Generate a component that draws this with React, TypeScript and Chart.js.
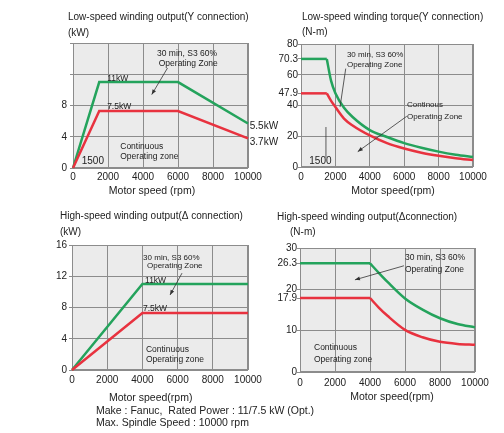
import React, { useEffect, useRef } from 'react';
import { Chart, registerables } from 'chart.js';

Chart.register(...registerables);

const W = 504;
const H = 433;
const FONT = '"Liberation Sans", Arial, Helvetica, sans-serif';
const GREEN = '#24a35c';
const RED = '#e8323f';
const PLOT_BG = '#ebebeb';
const GRID = '#8c8c8c';
const TEXT = '#222222';

// shared x axis ticks (rpm)
const RPM_TICKS = [0, 2000, 4000, 6000, 8000, 10000];

// Panel 1: low-speed winding output (kW)
const LOW_OUT_RPM = [0, 1500, 6000, 10000];
const LOW_OUT_S3 = [0, 11, 11, 5.7];
const LOW_OUT_CONT = [0, 7.3, 7.3, 3.8];
const LOW_OUT_YTICKS = [0, 4, 8, 12, 16];
const LOW_OUT_YLABELS = [0, 4, 8];

// Panel 2: low-speed winding torque (N-m)
const LOW_TQ_RPM = [0, 1500, 1750, 2000, 2500, 3000, 4000, 5000, 6000, 7000, 8000, 9000, 10000];
const LOW_TQ_S3 = [70.3, 70.3, 56, 48, 38.5, 32.5, 24, 19.5, 15.5, 12.5, 10, 8, 6.5];
const LOW_TQ_CONT = [47.9, 47.9, 43, 39, 31.5, 27, 20.5, 15.5, 12, 9.3, 7.3, 5.7, 4.5];
const LOW_TQ_YTICKS = [0, 20, 40, 47.9, 60, 70.3, 80];
const LOW_TQ_YGRID = [0, 20, 40, 60, 80];

// Panel 3: high-speed winding output (kW)
const HIGH_OUT_RPM = [0, 4000, 10000];
const HIGH_OUT_S3 = [0, 11, 11];
const HIGH_OUT_CONT = [0, 7.3, 7.3];
const HIGH_OUT_YTICKS = [0, 4, 8, 12, 16];

// Panel 4: high-speed winding torque (N-m)
const HIGH_TQ_RPM = [0, 4000, 4500, 5000, 6000, 7000, 8000, 9000, 10000];
const HIGH_TQ_S3 = [26.3, 26.3, 24, 21.8, 17.8, 15.1, 13, 11.6, 10.8];
const HIGH_TQ_CONT = [17.9, 17.9, 15.6, 13.6, 10.2, 8.4, 7.3, 6.8, 6.6];
const HIGH_TQ_YTICKS = [0, 10, 17.9, 20, 26.3, 30];
const HIGH_TQ_YGRID = [0, 10, 20, 30];

type Note = { t: string; x: number; y: number; size?: number };
type Arrow = { x1: number; y1: number; x2: number; y2: number; head?: boolean };
type Label = { t: string; x: number; y: number; size?: number; align?: CanvasTextAlign };

interface Panel {
  area: { left: number; top: number; right: number; bottom: number };
  rpm: number[];
  s3: number[];
  cont: number[];
  corner: number | null;
  yMax: number;
  yTicks: number[];
  yLabels: number[];
  yGrid: number[];
  yPad: number;
  xPad: number;
  notes: Note[];
  arrows: Arrow[];
  labels: Label[];
}

const PANELS: Panel[] = [
  {
    area: { left: 73, top: 43, right: 248, bottom: 168 },
    rpm: LOW_OUT_RPM,
    s3: LOW_OUT_S3,
    cont: LOW_OUT_CONT,
    corner: null,
    yMax: 16,
    yTicks: LOW_OUT_YTICKS,
    yLabels: LOW_OUT_YLABELS,
    yGrid: LOW_OUT_YTICKS,
    yPad: 3,
    xPad: 3,
    notes: [
      { t: '30 min, S3 60%', x: 4800, y: 14.7 },
      { t: 'Operating Zone', x: 4900, y: 13.3 },
      { t: '11kW', x: 1950, y: 11.5 },
      { t: '7.5kW', x: 1950, y: 7.9 },
      { t: 'Continuous', x: 2700, y: 2.7 },
      { t: 'Operating zone', x: 2700, y: 1.5 },
      { t: '1500', x: 500, y: 0.9, size: 10 },
      { t: '5.5kW', x: 10100, y: 5.4, size: 10 },
      { t: '3.7kW', x: 10100, y: 3.3, size: 10 },
    ],
    arrows: [{ x1: 5400, y1: 12.8, x2: 4500, y2: 9.4, head: true }],
    labels: [
      { t: 'Low-speed winding output(Y connection)', x: 68, y: 17 },
      { t: '(kW)', x: 68, y: 33 },
      { t: 'Motor speed (rpm)', x: 152, y: 191, size: 10.5, align: 'center' },
    ],
  },
  {
    area: { left: 301, top: 44, right: 473, bottom: 167 },
    rpm: LOW_TQ_RPM,
    s3: LOW_TQ_S3,
    cont: LOW_TQ_CONT,
    corner: 1,
    yMax: 80,
    yTicks: LOW_TQ_YTICKS,
    yLabels: LOW_TQ_YTICKS,
    yGrid: LOW_TQ_YGRID,
    yPad: 0,
    xPad: 4,
    notes: [
      { t: '30 min, S3 60%', x: 2670, y: 72.8, size: 8 },
      { t: 'Operating Zone', x: 2670, y: 66.3, size: 8 },
      { t: 'Continous', x: 6160, y: 40.3, size: 8 },
      { t: 'Operating Zone', x: 6160, y: 32.5, size: 8 },
      { t: '1500', x: 480, y: 3.9, size: 10 },
    ],
    arrows: [
      { x1: 2600, y1: 64, x2: 2270, y2: 39, head: false },
      { x1: 6150, y1: 33, x2: 3300, y2: 10, head: true },
      { x1: 1450, y1: 6, x2: 1450, y2: 26, head: false },
    ],
    labels: [
      { t: 'Low-speed winding torque(Y connection)', x: 302, y: 17 },
      { t: '(N-m)', x: 302, y: 32 },
      { t: 'Motor speed(rpm)', x: 393, y: 191, size: 10.5, align: 'center' },
    ],
  },
  {
    area: { left: 72, top: 245, right: 248, bottom: 370 },
    rpm: HIGH_OUT_RPM,
    s3: HIGH_OUT_S3,
    cont: HIGH_OUT_CONT,
    corner: null,
    yMax: 16,
    yTicks: HIGH_OUT_YTICKS,
    yLabels: HIGH_OUT_YTICKS,
    yGrid: HIGH_OUT_YTICKS,
    yPad: 2,
    xPad: 4,
    notes: [
      { t: '30 min, S3 60%', x: 4040, y: 14.3, size: 8 },
      { t: 'Operating Zone', x: 4260, y: 13.3, size: 8 },
      { t: '11kW', x: 4150, y: 11.4 },
      { t: '7.5kW', x: 4030, y: 7.8 },
      { t: 'Continuous', x: 4200, y: 2.6 },
      { t: 'Operating zone', x: 4200, y: 1.3 },
    ],
    arrows: [{ x1: 6250, y1: 12.4, x2: 5570, y2: 9.6, head: true }],
    labels: [
      { t: 'High-speed winding output(Δ connection)', x: 60, y: 216 },
      { t: '(kW)', x: 60, y: 232 },
      { t: 'Motor speed(rpm)', x: 109, y: 398, size: 10.5 },
      { t: 'Make : Fanuc,  Rated Power : 11/7.5 kW (Opt.)', x: 96, y: 411, size: 10.5 },
      { t: 'Max. Spindle Speed : 10000 rpm', x: 96, y: 423, size: 10.5 },
    ],
  },
  {
    area: { left: 300, top: 248, right: 475, bottom: 372 },
    rpm: HIGH_TQ_RPM,
    s3: HIGH_TQ_S3,
    cont: HIGH_TQ_CONT,
    corner: 1,
    yMax: 30,
    yTicks: HIGH_TQ_YTICKS,
    yLabels: HIGH_TQ_YTICKS,
    yGrid: HIGH_TQ_YGRID,
    yPad: 0,
    xPad: 5,
    notes: [
      { t: '30 min, S3 60%', x: 6000, y: 27.6 },
      { t: 'Operating Zone', x: 6000, y: 24.7 },
      { t: 'Continuous', x: 800, y: 5.8 },
      { t: 'Operating zone', x: 800, y: 3.1 },
    ],
    arrows: [{ x1: 5940, y1: 25.7, x2: 3140, y2: 22.3, head: true }],
    labels: [
      { t: 'High-speed winding output(Δconnection)', x: 277, y: 217 },
      { t: '(N-m)', x: 290, y: 232 },
      { t: 'Motor speed(rpm)', x: 392, y: 397, size: 10.5, align: 'center' },
    ],
  },
];

const AXIS_W = 40;
const AXIS_H = 22;

function pts(xs: number[], ys: number[], from: number, to: number) {
  const out: { x: number; y: number }[] = [];
  for (let i = from; i <= to; i++) out.push({ x: xs[i], y: ys[i] });
  return out;
}

function lineDs(data: { x: number; y: number }[], color: string, smooth: boolean) {
  return {
    data,
    borderColor: color,
    backgroundColor: color,
    borderWidth: 2.5,
    pointRadius: 0,
    fill: false,
    tension: smooth ? 0.4 : 0,
    cubicInterpolationMode: smooth ? ('monotone' as const) : ('default' as const),
    clip: 4,
  };
}

function buildDatasets(p: Panel) {
  const n = p.rpm.length - 1;
  const series: [number[], string][] = [
    [p.cont, RED],
    [p.s3, GREEN],
  ];
  const ds: any[] = [];
  for (const [ys, color] of series) {
    if (p.corner === null) {
      ds.push(lineDs(pts(p.rpm, ys, 0, n), color, false));
    } else {
      ds.push(lineDs(pts(p.rpm, ys, 0, p.corner), color, false));
      ds.push(lineDs(pts(p.rpm, ys, p.corner, n), color, true));
    }
  }
  return ds;
}

function makePlugin(p: Panel) {
  return {
    id: 'panelDecor',
    beforeDraw(chart: any) {
      const { ctx, chartArea: a } = chart;
      ctx.save();
      ctx.fillStyle = PLOT_BG;
      ctx.fillRect(a.left, a.top, a.right - a.left, a.bottom - a.top);
      ctx.restore();
    },
    beforeDatasetsDraw(chart: any) {
      const { ctx, chartArea: a } = chart;
      ctx.save();
      ctx.strokeStyle = GRID;
      ctx.lineWidth = 1;
      ctx.strokeRect(a.left + 0.5, a.top + 0.5, a.right - a.left - 1, a.bottom - a.top - 1);
      ctx.restore();
    },
    afterDraw(chart: any) {
      const { ctx } = chart;
      const xs = chart.scales.x;
      const ys = chart.scales.y;
      ctx.save();
      ctx.fillStyle = TEXT;
      ctx.textBaseline = 'middle';
      for (const n of p.notes) {
        ctx.font = `${n.size ?? 8.5}px ${FONT}`;
        ctx.textAlign = 'left';
        ctx.fillText(n.t, xs.getPixelForValue(n.x), ys.getPixelForValue(n.y));
      }
      ctx.strokeStyle = '#333';
      ctx.lineWidth = 0.8;
      for (const ar of p.arrows) {
        const x1 = xs.getPixelForValue(ar.x1);
        const y1 = ys.getPixelForValue(ar.y1);
        const x2 = xs.getPixelForValue(ar.x2);
        const y2 = ys.getPixelForValue(ar.y2);
        ctx.beginPath();
        ctx.moveTo(x1, y1);
        ctx.lineTo(x2, y2);
        ctx.stroke();
        if (ar.head) {
          const ang = Math.atan2(y2 - y1, x2 - x1);
          const len = 5;
          const wid = 2;
          ctx.beginPath();
          ctx.moveTo(x2, y2);
          ctx.lineTo(x2 - len * Math.cos(ang) + wid * Math.sin(ang), y2 - len * Math.sin(ang) - wid * Math.cos(ang));
          ctx.lineTo(x2 - len * Math.cos(ang) - wid * Math.sin(ang), y2 - len * Math.sin(ang) + wid * Math.cos(ang));
          ctx.closePath();
          ctx.fillStyle = '#333';
          ctx.fill();
        }
      }
      ctx.fillStyle = TEXT;
      for (const l of p.labels) {
        ctx.font = `${l.size ?? 10}px ${FONT}`;
        ctx.textAlign = l.align ?? 'left';
        ctx.fillText(l.t, l.x, l.y);
      }
      ctx.restore();
    },
  };
}

function buildConfig(p: Panel): any {
  const a = p.area;
  return {
    type: 'line',
    data: { datasets: buildDatasets(p) },
    options: {
      animation: false,
      responsive: false,
      events: [],
      layout: {
        padding: {
          left: a.left - AXIS_W,
          top: a.top,
          right: W - a.right,
          bottom: H - a.bottom - AXIS_H,
        },
      },
      plugins: {
        legend: { display: false },
        tooltip: { enabled: false },
        title: { display: false },
      },
      scales: {
        x: {
          type: 'linear',
          min: 0,
          max: 10000,
          afterFit: (s: any) => {
            s.height = AXIS_H;
          },
          afterBuildTicks: (s: any) => {
            s.ticks = RPM_TICKS.map((v) => ({ value: v }));
          },
          ticks: {
            autoSkip: false,
            maxRotation: 0,
            padding: p.xPad,
            color: TEXT,
            font: { family: FONT, size: 10 },
            callback: (v: any) => String(v),
          },
          grid: { color: GRID, drawTicks: false, lineWidth: 1 },
          border: { display: false },
        },
        y: {
          type: 'linear',
          min: 0,
          max: p.yMax,
          afterFit: (s: any) => {
            s.width = AXIS_W;
          },
          afterBuildTicks: (s: any) => {
            s.ticks = p.yTicks.map((v) => ({ value: v }));
          },
          ticks: {
            autoSkip: false,
            padding: p.yPad,
            color: TEXT,
            font: { family: FONT, size: 10 },
            callback: (v: any) => (p.yLabels.includes(v) ? String(v) : ''),
          },
          grid: {
            color: (c: any) => (c.tick && p.yGrid.includes(c.tick.value) ? GRID : 'rgba(0,0,0,0)'),
            tickColor: GRID,
            tickLength: 3,
            drawTicks: true,
            lineWidth: 1,
          },
          border: { display: false },
        },
      },
    },
    plugins: [makePlugin(p)],
  };
}

function PanelChart({ panel }: { panel: Panel }) {
  const ref = useRef<HTMLCanvasElement | null>(null);
  useEffect(() => {
    if (!ref.current) return;
    const chart = new Chart(ref.current, buildConfig(panel));
    return () => chart.destroy();
  }, [panel]);
  return (
    <canvas
      ref={ref}
      width={W}
      height={H}
      style={{ position: 'absolute', left: 0, top: 0, width: W, height: H }}
    />
  );
}

export default function App() {
  return (
    <div style={{ position: 'absolute', left: 0, top: 0, width: W, height: H, background: '#ffffff' }}>
      {PANELS.map((p, i) => (
        <PanelChart key={i} panel={p} />
      ))}
    </div>
  );
}
